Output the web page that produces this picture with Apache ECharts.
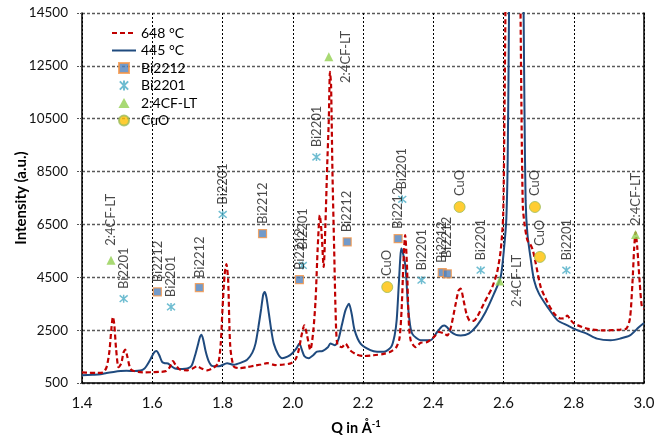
<!DOCTYPE html>
<html>
<head>
<meta charset="utf-8">
<script src="https://cdn.jsdelivr.net/npm/echarts@6/dist/echarts.min.js"></script>
<style>
html,body{margin:0;padding:0;background:#fff;}
#chart{width:657px;height:435px;}
</style>
</head>
<body>
<div id="chart"></div>
<script>
// ---- data ----
const q648 = [1.400,1.420,1.440,1.460,1.470,1.478,1.484,1.488,1.492,1.497,1.504,1.512,1.518,1.523,1.529,1.536,1.542,1.560,1.580,1.600,1.620,1.640,1.650,1.659,1.668,1.680,1.700,1.715,1.728,1.740,1.756,1.775,1.788,1.795,1.800,1.806,1.811,1.816,1.822,1.832,1.850,1.870,1.890,1.910,1.927,1.950,1.975,1.995,2.008,2.017,2.025,2.033,2.040,2.050,2.058,2.065,2.071,2.077,2.082,2.088,2.093,2.098,2.1026,2.106,2.109,2.113,2.118,2.122,2.127,2.140,2.150,2.163,2.183,2.202,2.230,2.259,2.278,2.295,2.304,2.310,2.315,2.320,2.325,2.330,2.336,2.350,2.364,2.383,2.402,2.416,2.430,2.440,2.450,2.463,2.472,2.478,2.486,2.495,2.505,2.515,2.525,2.544,2.554,2.568,2.582,2.592,2.599,2.603,2.607,2.615,2.627,2.640,2.647,2.651,2.655,2.660,2.668,2.676,2.683,2.691,2.706,2.725,2.744,2.763,2.773,2.782,2.790,2.801,2.837,2.886,2.932,2.950,2.960,2.967,2.972,2.976,2.981,2.988,2.994,3.000];
const i648 = [900,890,880,900,1100,1700,2600,3000,2700,1800,1100,1250,1650,1760,1500,1100,980,920,900,910,920,950,1100,1330,1150,1000,980,1050,1130,1050,980,1080,1250,2000,3300,4600,5000,4400,1900,1130,1060,1100,1150,1200,1250,1180,1200,1250,1400,1750,2300,2680,2350,1750,2400,3650,5600,6850,6200,4890,6500,8700,10440,12270,11800,8500,5500,3200,1960,1860,1990,1740,1570,1520,1550,1600,1680,1860,2200,3300,5000,6100,5000,2900,2100,1860,2020,2050,2240,2430,2380,2300,2600,3440,4000,4070,3650,3100,2850,2850,3000,3500,3760,4130,4700,5520,6800,11000,17000,30000,40000,30000,17000,11000,7200,6500,5900,5750,5550,5080,4130,3560,3130,2940,2950,3050,2900,2750,2560,2490,2520,2560,2935,4260,5600,6200,5600,4260,3380,3300];

const q445 = [1.400,1.430,1.453,1.470,1.490,1.510,1.527,1.550,1.566,1.578,1.585,1.595,1.605,1.612,1.620,1.628,1.636,1.645,1.655,1.665,1.685,1.700,1.712,1.722,1.730,1.736,1.740,1.745,1.752,1.760,1.770,1.790,1.813,1.832,1.851,1.870,1.885,1.894,1.902,1.910,1.916,1.920,1.925,1.932,1.940,1.946,1.958,1.970,1.985,1.998,2.010,2.019,2.026,2.033,2.045,2.058,2.069,2.085,2.100,2.107,2.120,2.130,2.140,2.150,2.160,2.168,2.176,2.193,2.221,2.240,2.259,2.280,2.290,2.296,2.302,2.306,2.309,2.314,2.321,2.328,2.334,2.340,2.352,2.364,2.392,2.411,2.425,2.432,2.440,2.451,2.465,2.478,2.501,2.525,2.549,2.573,2.592,2.601,2.608,2.612,2.616,2.625,2.637,2.650,2.657,2.660,2.663,2.668,2.678,2.687,2.701,2.725,2.754,2.782,2.810,2.837,2.866,2.905,2.932,2.960,2.986,3.000];
const i445 = [790,810,830,880,920,950,960,950,970,1050,1170,1400,1650,1710,1550,1300,1250,1240,1130,1050,1030,1050,1150,1550,1950,2250,2330,2150,1700,1350,1150,1130,1250,1190,1260,1380,1650,1990,2600,3300,3850,3940,3750,3130,2400,1990,1600,1440,1500,1620,1800,1990,1750,1520,1440,1550,1690,1710,1850,1990,1930,2150,2700,3250,3500,3100,2500,1990,1740,1680,1680,1860,2300,2900,4260,5200,5585,5400,4890,3440,2700,2370,2200,2120,2120,2430,2650,2680,2600,2430,2320,2300,2370,2680,3190,3880,4510,5520,6700,9000,15000,30000,40000,30000,15000,10500,7400,6150,5140,4390,3880,3380,2870,2680,2500,2370,2180,2120,2180,2300,2620,2770];

const bi2212Q = [1.6145,1.734,1.914,2.019,2.155,2.300,2.4256,2.440];
const bi2212I = [3950,4110,6150,4410,5840,5960,4680,4630];
const bi2201Q = [1.5186,1.6535,1.8006,2.0285,2.0675,2.3117,2.3667,2.535,2.779];
const bi2201I = [3690,3380,6880,4950,9050,7450,4390,4770,4770];
const cfQ = [1.4826,2.1026,2.589,2.976];
const cfI = [5140,12840,4360,6120];
const cuoQ = [2.269,2.475,2.6895,2.7037];
const cuoI = [4130,7160,7160,5270];

const xTicks = {min: 1.4, max: 3.0, step: 0.2};
const yTicks = {min: 500, max: 14500, step: 2000};

// ---- label placement exceptions (style, not data) ----
const labelTweaks = {
  '2:4CF-LT': {0: {offset: [5, 0]}, 1: 'right', 2: 'right'},
  'Bi2201': {3: {offset: [6, 0]}},
  'Bi2212': {7: {offset: [6, 0]}}
};

const FONT = 'Lato';
function zip(a, b) { return a.map((v, k) => [v, b[k]]); }

function scatterData(name, qs, is) {
  const tw = labelTweaks[name] || {};
  return qs.map((q, k) => {
    const item = {value: [q, is[k]]};
    const t = tw[k];
    if (t === 'right') {
      item.label = {position: 'right', distance: 6, align: 'center', verticalAlign: 'top'};
    } else if (t && t.offset) {
      item.label = {offset: t.offset};
    }
    return item;
  });
}

const baseLabel = {
  show: true, formatter: '{a}', position: 'top', rotate: 90, distance: 5,
  align: 'left', verticalAlign: 'middle',
  fontFamily: FONT, fontSize: 13, color: '#1a1a1a'
};

const asterisk = 'path://M0,0L10,10M10,0L0,10M5,-1L5,11';

const chart = echarts.init(document.getElementById('chart'), null, {renderer: 'canvas'});
chart.setOption({
  animation: false,
  textStyle: {fontFamily: FONT},
  grid: {left: 82, right: 13, top: 13, bottom: 52, containLabel: false, outerBoundsMode: 'none'},
  legend: {
    left: 106, top: 21, orient: 'vertical', itemGap: 3.5, itemWidth: 24, itemHeight: 10,
    symbolKeepAspect: true,
    textStyle: {fontFamily: FONT, fontSize: 14, color: '#000'},
    data: [
      {name: '648 °C', itemStyle: {opacity: 0}},
      {name: '445 °C', itemStyle: {opacity: 0}},
      {name: 'Bi2212', icon: 'path://M0,0H10V10H0Z'},
      {name: 'Bi2201'},
      {name: '2:4CF-LT', icon: 'path://M5,0L10,9H0Z'},
      {name: 'CuO', icon: 'circle'}
    ]
  },
  xAxis: {
    type: 'value', min: xTicks.min, max: xTicks.max, interval: xTicks.step,
    name: 'Q in Å{sup|-1}', nameLocation: 'middle', nameGap: 36, nameMoveOverlap: false,
    nameTextStyle: {fontFamily: FONT, fontSize: 14.5, fontWeight: 'bold', color: '#000', padding: [0, 14, 0, 0],
      rich: {sup: {fontFamily: FONT, fontSize: 9.5, fontWeight: 'bold', color: '#000', padding: [0, 0, 8, 0]}}},
    axisLine: {onZero: false, lineStyle: {color: '#000', width: 1.5}},
    axisTick: {show: false},
    axisLabel: {fontFamily: FONT, fontSize: 15, color: '#111', margin: 13, formatter: v => v.toFixed(1)},
    splitLine: {show: true, lineStyle: {color: '#000', width: 1, type: [2, 2]}}
  },
  yAxis: [{
    type: 'value', min: yTicks.min, max: yTicks.max, interval: yTicks.step,
    name: 'Intensity (a.u.)', nameLocation: 'middle', nameGap: 53, nameMoveOverlap: false,
    nameTextStyle: {fontFamily: FONT, fontSize: 15, fontWeight: 'bold', color: '#000'},
    axisLine: {show: true, lineStyle: {color: '#000', width: 1.5}},
    axisTick: {show: true, length: 5, lineStyle: {color: '#555', type: [2, 1]}},
    axisLabel: {fontFamily: FONT, fontSize: 13.5, color: '#111', margin: 14, formatter: v => String(v)},
    splitLine: {show: true, lineStyle: {color: '#595959', width: 1.3, type: [3, 2]}}
  }, {
    type: 'value', position: 'right', min: yTicks.min, max: yTicks.max, interval: yTicks.step,
    axisLine: {show: true, lineStyle: {color: '#000', width: 1.5}},
    axisTick: {show: false}, axisLabel: {show: false}, splitLine: {show: false}
  }],
  series: [
    {name: '648 °C', type: 'line', data: zip(q648, i648), showSymbol: false, symbol: 'none',
     smooth: 0.25, clip: true, z: 3,
     lineStyle: {color: '#C00000', width: 2.2, type: [5, 3]}, itemStyle: {color: '#C00000'}},
    {name: '445 °C', type: 'line', data: zip(q445, i445), showSymbol: false, symbol: 'none',
     smooth: 0.25, clip: true, z: 2,
     lineStyle: {color: '#1F4A7E', width: 2}, itemStyle: {color: '#1F4A7E'}},
    {name: 'Bi2212', type: 'scatter', symbol: 'rect', symbolSize: 8, z: 5,
     data: scatterData('Bi2212', bi2212Q, bi2212I),
     itemStyle: {color: '#4F81BD', borderColor: '#F79646', borderWidth: 1.2}, label: baseLabel},
    {name: 'Bi2201', type: 'scatter', symbol: asterisk, symbolSize: 8, z: 5,
     data: scatterData('Bi2201', bi2201Q, bi2201I),
     itemStyle: {color: 'rgba(0,0,0,0)', borderColor: '#4BACC6', borderWidth: 1.5}, label: baseLabel},
    {name: '2:4CF-LT', type: 'scatter', symbol: 'triangle', symbolSize: 9, z: 5,
     data: scatterData('2:4CF-LT', cfQ, cfI),
     itemStyle: {color: '#92D050'}, label: baseLabel},
    {name: 'CuO', type: 'scatter', symbol: 'circle', symbolSize: 11, z: 5,
     data: scatterData('CuO', cuoQ, cuoI),
     itemStyle: {color: '#FFC000', borderColor: '#9BBB59', borderWidth: 1}, label: baseLabel}
  ]
});
</script>
</body>
</html>
